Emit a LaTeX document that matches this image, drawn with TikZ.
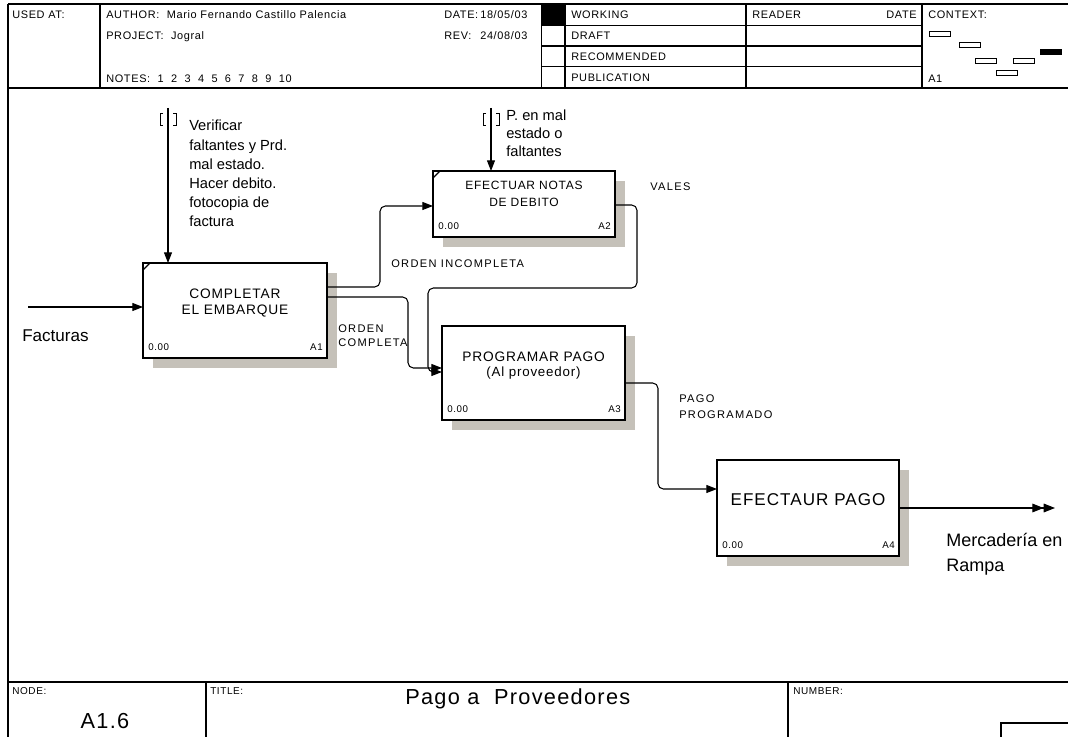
\documentclass[tikz,border=0pt]{standalone}
\usepackage{fontspec}
\setmainfont{Liberation Sans}[LetterSpace=6]
\newfontfamily\plainfont{Liberation Sans}
\newfontfamily\widefont{Liberation Sans}[LetterSpace=12]
\usetikzlibrary{arrows.meta,shadows,calc}

\definecolor{shadowc}{RGB}{197,193,185}

\begin{document}
\begin{tikzpicture}[x=0.75pt,y=-0.75pt,
  frame/.style={line width=0.9pt},
  proc/.style={draw, line width=1.6pt, fill=white, rectangle, inner sep=0pt, outer sep=0pt,
    general shadow={fill=shadowc, shadow xshift=7.5pt, shadow yshift=-7.5pt}},
  flow/.style={line width=0.8pt, rounded corners=4pt},
  arr/.style={flow, -{Triangle[length=8pt,width=6pt]}},
  hdr/.style={font=\fontsize{8.2}{10}\selectfont, inner sep=0pt, anchor=base west},
  foot/.style={font=\fontsize{7.5}{9}\selectfont, inner sep=0pt, anchor=base west},
  lbl/.style={font=\widefont\fontsize{8.3}{10}\selectfont, inner sep=0pt, anchor=base west},
  num/.style={font=\fontsize{7.3}{9}\selectfont, inner sep=0pt},
  boxtxt/.style={inner sep=0pt, anchor=base},
  ctl/.style={font=\plainfont\fontsize{11}{14.4}\selectfont, inner sep=0pt, anchor=base west},
  big/.style={font=\fontsize{16.3}{20}\selectfont, inner sep=0pt},
  tick/.style={line width=0.8pt},
  bracket/.style={line width=0.7pt}
]
\useasboundingbox (0,0) rectangle (1068,737);

% ---------- header block ----------
\draw[frame] (8,4) -- (1068,4);
\draw[frame] (8,88) -- (1068,88);
\draw[frame] (8,4) -- (8,737);
\foreach \xx in {100,541.5,565,746,922} \draw[frame] (\xx,4) -- (\xx,88);
\foreach \yy in {25.5,46,66.5} \draw[frame] (541.5,\yy) -- (922,\yy);
\fill (541.5,4) rectangle (565,25.5);

\node[hdr] (usedat) at (12,18.5) {USED AT:};
\node[hdr] (author) at (106,18.5) {AUTHOR:~~Mario Fernando Castillo Palencia};
\node[hdr] (project) at (106,40) {PROJECT:~~Jogral};
\node[hdr] (notes) at (106,83) {NOTES:~~1~~2~~3~~4~~5~~6~~7~~8~~9~~10};
\node[hdr] (datek) at (444,18.5) {DATE:};
\node[hdr] (datev) at (480,18.5) {18/05/03};
\node[hdr] (revk) at (444,40) {REV:};
\node[hdr] (revv) at (480,40) {24/08/03};

\node[hdr] (working) at (571,18.5) {WORKING};
\node[hdr] (draft) at (571,40) {DRAFT};
\node[hdr] (recom) at (571,60.5) {RECOMMENDED};
\node[hdr] (publ) at (571,82) {PUBLICATION};
\node[hdr] (reader) at (752,18.5) {READER};
\node[hdr, anchor=base east] (rdate) at (917,18.5) {DATE};
\node[hdr] (context) at (928,18.5) {CONTEXT:};
\node[hdr] (ctxid) at (928,83) {A1};

% context map
\draw[line width=0.7pt] (929,31.5) rectangle (950,36);
\draw[line width=0.7pt] (959,42.5) rectangle (980,47);
\fill (1040,49) rectangle (1062,55.5);
\draw[line width=0.7pt] (975,58.5) rectangle (996,63);
\draw[line width=0.7pt] (1013,58.5) rectangle (1034,63);
\draw[line width=0.7pt] (996,70.5) rectangle (1017,75);

% ---------- footer block ----------
\draw[frame] (8,682) -- (1068,682);
\draw[frame] (206,682) -- (206,737);
\draw[frame] (788,682) -- (788,737);
\draw[frame] (1001,737) -- (1001,723) -- (1068,723);
\node[foot] (nodek) at (12,695) {NODE:};
\node[foot] (titlek) at (210,695) {TITLE:};
\node[foot] (numberk) at (793,695) {NUMBER:};
\node[big, anchor=base] (nodeid) at (105,729) {A1.6};
\node[big, anchor=base west] (title) at (405,705) {Pago a~~Proveedores};

% ---------- activity boxes ----------
\node[proc, minimum width=138pt, minimum height=71.25pt] (A1) at (235,310.5) {};
\node[proc, minimum width=136.5pt, minimum height=49.5pt] (A2) at (524,204) {};
\node[proc, minimum width=137.25pt, minimum height=70.5pt] (A3) at (533.5,373) {};
\node[proc, minimum width=136.5pt, minimum height=72pt] (A4) at (808,508) {};

\draw[tick] ($(A1.north west)+(0,7)$) -- ($(A1.north west)+(7,0)$);
\draw[tick] ($(A2.north west)+(0,7)$) -- ($(A2.north west)+(7,0)$);

\node[boxtxt, font=\fontsize{10.3}{12}\selectfont] (A1l1) at (235,299) {COMPLETAR};
\node[boxtxt, font=\fontsize{10.3}{12}\selectfont] (A1l2) at (235,315) {EL EMBARQUE};
\node[boxtxt, font=\fontsize{9}{11}\selectfont] (A2l1) at (524,190) {EFECTUAR NOTAS};
\node[boxtxt, font=\fontsize{9}{11}\selectfont] (A2l2) at (524,207) {DE DEBITO};
\node[boxtxt, font=\fontsize{10.3}{12}\selectfont] (A3l1) at (533.5,362) {PROGRAMAR PAGO};
\node[boxtxt, font=\fontsize{10}{12}\selectfont] (A3l2) at (533.5,377) {(Al proveedor)};
\node[boxtxt, font=\fontsize{12.8}{15}\selectfont] (A4l1) at (808,506) {EFECTAUR PAGO};

\foreach \b in {A1,A2,A3,A4}{
  \node[num, anchor=base west] (\b cost) at ($(\b.south west)+(5,-7)$) {0.00};
  \node[num, anchor=base east] (\b id) at ($(\b.south east)+(-4,-7)$) {\b};
}

% ---------- inputs and controls ----------
\coordinate (fin) at (28,307);
\draw[arr] (fin) -- (fin -| A1.west);
\node[font=\plainfont\fontsize{12.8}{15}\selectfont, inner sep=0pt, anchor=base west] (facturas) at (22,342) {Facturas};

\coordinate (c1) at (168,108);
\draw[arr] (c1) -- (c1 |- A1.north);
\draw[bracket] (163,113) -- (160,113) -- (160,125) -- (163,125);
\draw[bracket] (173,113) -- (176,113) -- (176,125) -- (173,125);
\node[ctl] (c1txt) at (189,131) {\begin{tabular}[t]{@{}l@{}}Verificar\\faltantes y Prd.\\mal estado.\\Hacer debito.\\fotocopia de\\factura\end{tabular}};

\coordinate (c2) at (491,108);
\draw[arr] (c2) -- (c2 |- A2.north);
\draw[bracket] (486,113) -- (483,113) -- (483,125) -- (486,125);
\draw[bracket] (496,113) -- (499,113) -- (499,125) -- (496,125);
\node[ctl, font=\plainfont\fontsize{11}{13.5}\selectfont] (c2txt) at (506,121) {\begin{tabular}[t]{@{}l@{}}P. en mal\\estado o\\faltantes\end{tabular}};

% ---------- internal flows ----------
\draw[arr] (A1.east |- 0,287) -- (380,287) -- (380,206) -- (A2.west |- 0,206);
\node[lbl] (ordinc) at (391,268) {ORDEN INCOMPLETA};

\draw[arr] (A1.east |- 0,297) -- (408,297) -- (408,368) -- (A3.west |- 0,368);
\node[lbl] (ordc1) at (338,333) {ORDEN};
\node[lbl] (ordc2) at (338,347) {COMPLETA};

\draw[arr] (A2.east |- 0,205) -- (637,205) -- (637,288) -- (428,288) -- (428,372) -- (A3.west |- 0,372);
\node[lbl] (vales) at (650,191) {VALES};

\draw[arr] (A3.east |- 0,383) -- (658,383) -- (658,489) -- (A4.west |- 0,489);
\node[lbl] (pago1) at (679,403) {PAGO};
\node[lbl] (pago2) at (679,419) {PROGRAMADO};

% ---------- output ----------
\coordinate (fout) at (1055,508);
\draw[flow, -{Triangle[length=8.5pt,width=6.5pt,sep=0pt]Triangle[length=8.5pt,width=6.5pt]}] (A4.east |- fout) -- (fout);
\node[font=\plainfont\fontsize{13.5}{18.5}\selectfont, inner sep=0pt, anchor=base west] (merc) at (946,547) {\begin{tabular}[t]{@{}l@{}}Mercadería en\\Rampa\end{tabular}};
\end{tikzpicture}
\end{document}
